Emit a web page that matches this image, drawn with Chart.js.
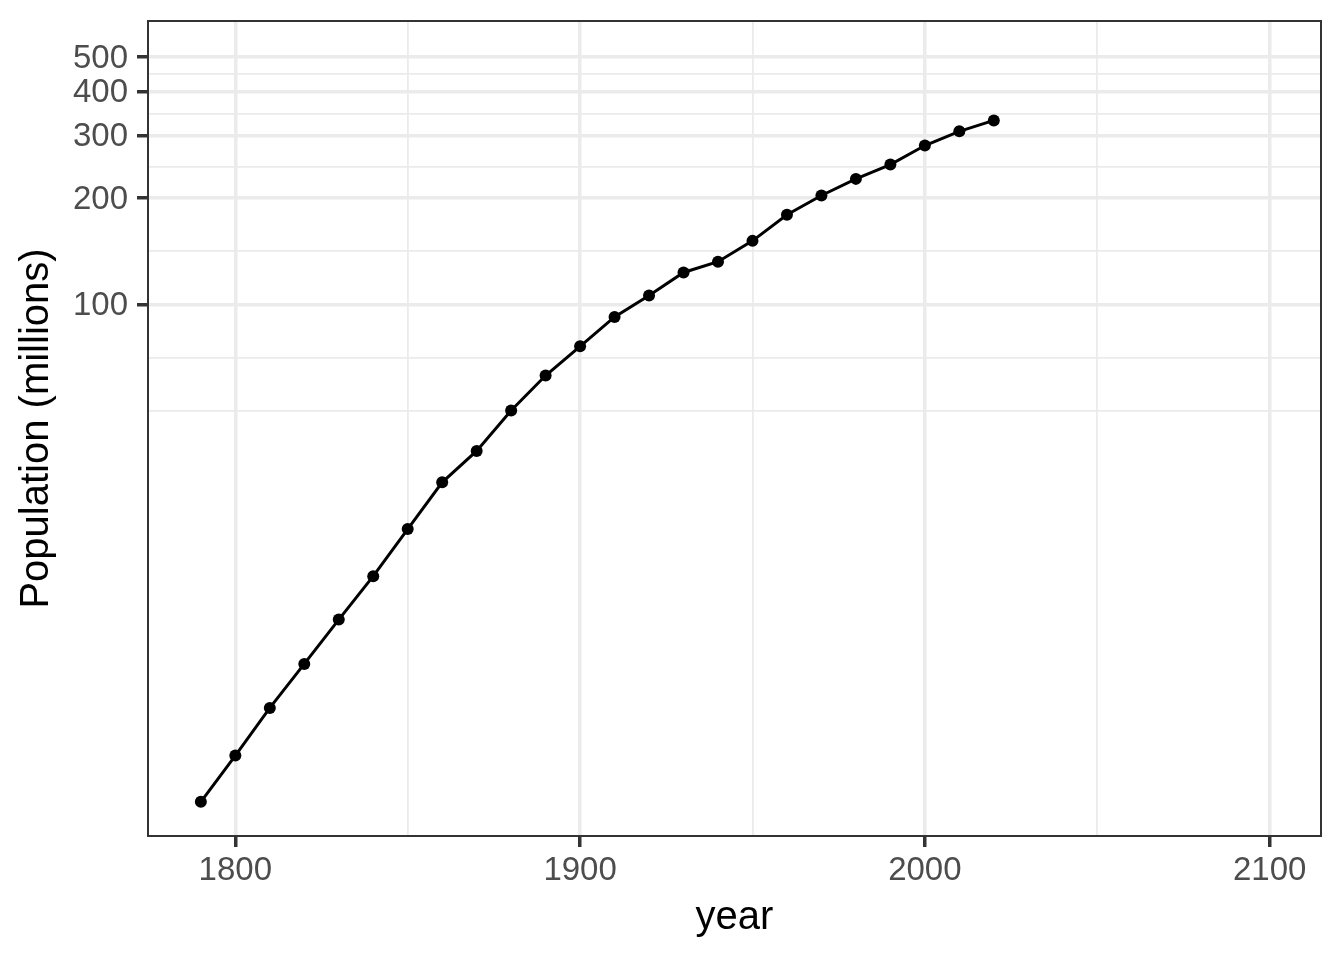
<!DOCTYPE html>
<html>
<head>
<meta charset="utf-8">
<script src="https://cdn.jsdelivr.net/npm/chart.js@4"></script>
<style>
  html, body { margin: 0; padding: 0; background: #ffffff; }
  #wrap { width: 1344px; height: 960px; position: relative; }
</style>
</head>
<body>
<div id="wrap"><canvas id="popChart"></canvas></div>
<script>
// US census population, millions
const years = [1790, 1800, 1810, 1820, 1830, 1840, 1850, 1860, 1870, 1880, 1890, 1900,
  1910, 1920, 1930, 1940, 1950, 1960, 1970, 1980, 1990, 2000, 2010, 2020];
const population = [3.93, 5.31, 7.24, 9.64, 12.87, 17.07, 23.19, 31.44, 38.56, 50.19, 62.98, 76.21,
  92.23, 106.02, 123.2, 132.16, 151.33, 179.32, 203.3, 226.54, 248.71, 281.42, 308.75, 331.45];

// axis breaks (ggplot style: majors labelled, minors only as grid)
const xMajor = [1800, 1900, 2000, 2100];
const xMinor = [1850, 1950, 2050];
const yMajor = [100, 200, 300, 400, 500];
const yMinor = [50, 70.71, 141.42, 244.95, 346.41, 447.21];

const gridColor = '#EBEBEB';
const darkLine = '#333333';
const fontFamily = "'Liberation Sans', Arial, Helvetica, sans-serif";

const isMajor = (list, v) => list.some(m => Math.abs(m - v) < 1e-6);

// drop the label overhang padding so the panel sits where ggplot puts it
const noOverhang = scale => {
  scale.paddingTop = 0;
  scale.paddingBottom = 0;
  scale.paddingLeft = 0;
  scale.paddingRight = 0;
};

const panelBorder = {
  id: 'panelBorder',
  afterDraw(chart) {
    const { ctx, chartArea } = chart;
    ctx.save();
    ctx.strokeStyle = darkLine;
    ctx.lineWidth = 2;
    ctx.strokeRect(chartArea.left, chartArea.top, chartArea.right - chartArea.left, chartArea.bottom - chartArea.top);
    ctx.restore();
  }
};

const ctx = document.getElementById('popChart').getContext('2d');

const popChart = new Chart(ctx, {
  type: 'line',
  data: {
    datasets: [{
      label: 'Population',
      data: years.map((yr, i) => ({ x: yr, y: population[i] })),
      borderColor: '#000000',
      backgroundColor: '#000000',
      borderWidth: 3,
      pointRadius: 6,
      pointBorderWidth: 0,
      pointBackgroundColor: '#000000',
      tension: 0,
      fill: false
    }]
  },
  options: {
    responsive: true,
    maintainAspectRatio: false,
    animation: false,
    layout: { padding: { left: 0, top: 21, right: 23, bottom: 0 } },
    plugins: {
      legend: { display: false },
      tooltip: { enabled: false }
    },
    scales: {
      x: {
        type: 'linear',
        bounds: 'data',
        min: 1774.67,
        max: 2114.9,
        afterBuildTicks: scale => {
          scale.ticks = [...xMajor, ...xMinor].sort((a, b) => a - b).map(v => ({ value: v }));
        },
        afterFit: scale => { scale.height = 124; noOverhang(scale); },
        border: { display: false },
        grid: {
          color: gridColor,
          lineWidth: c => isMajor(xMajor, c.tick.value) ? 3.5 : 1.8,
          tickLength: 11,
          tickColor: c => isMajor(xMajor, c.tick.value) ? darkLine : 'rgba(0,0,0,0)',
          tickWidth: 3.5
        },
        ticks: {
          autoSkip: false,
          maxRotation: 0,
          padding: 4,
          color: '#4D4D4D',
          font: { family: fontFamily, size: 33 },
          callback: v => isMajor(xMajor, v) ? String(v) : ''
        },
        title: {
          display: true,
          text: 'year',
          color: '#000000',
          font: { family: fontFamily, size: 40 },
          padding: { top: 0, bottom: 18 }
        }
      },
      y: {
        type: 'logarithmic',
        bounds: 'data',
        min: 3.146,
        max: 633,
        afterBuildTicks: scale => {
          scale.ticks = [...yMajor, ...yMinor].sort((a, b) => a - b).map(v => ({ value: v }));
        },
        afterFit: scale => { scale.width = 148; noOverhang(scale); },
        border: { display: false },
        grid: {
          color: gridColor,
          lineWidth: c => isMajor(yMajor, c.tick.value) ? 3.5 : 1.8,
          tickLength: 11,
          tickColor: c => isMajor(yMajor, c.tick.value) ? darkLine : 'rgba(0,0,0,0)',
          tickWidth: 3.5
        },
        ticks: {
          autoSkip: false,
          padding: 9,
          labelOffset: 1.5,
          color: '#4D4D4D',
          font: { family: fontFamily, size: 33 },
          callback: v => isMajor(yMajor, v) ? String(v) : ''
        },
        title: {
          display: true,
          text: 'Population (millions)',
          color: '#000000',
          font: { family: fontFamily, size: 40 },
          padding: { top: 13, bottom: 0 }
        }
      }
    }
  },
  plugins: [panelBorder]
});
</script>
</body>
</html>
